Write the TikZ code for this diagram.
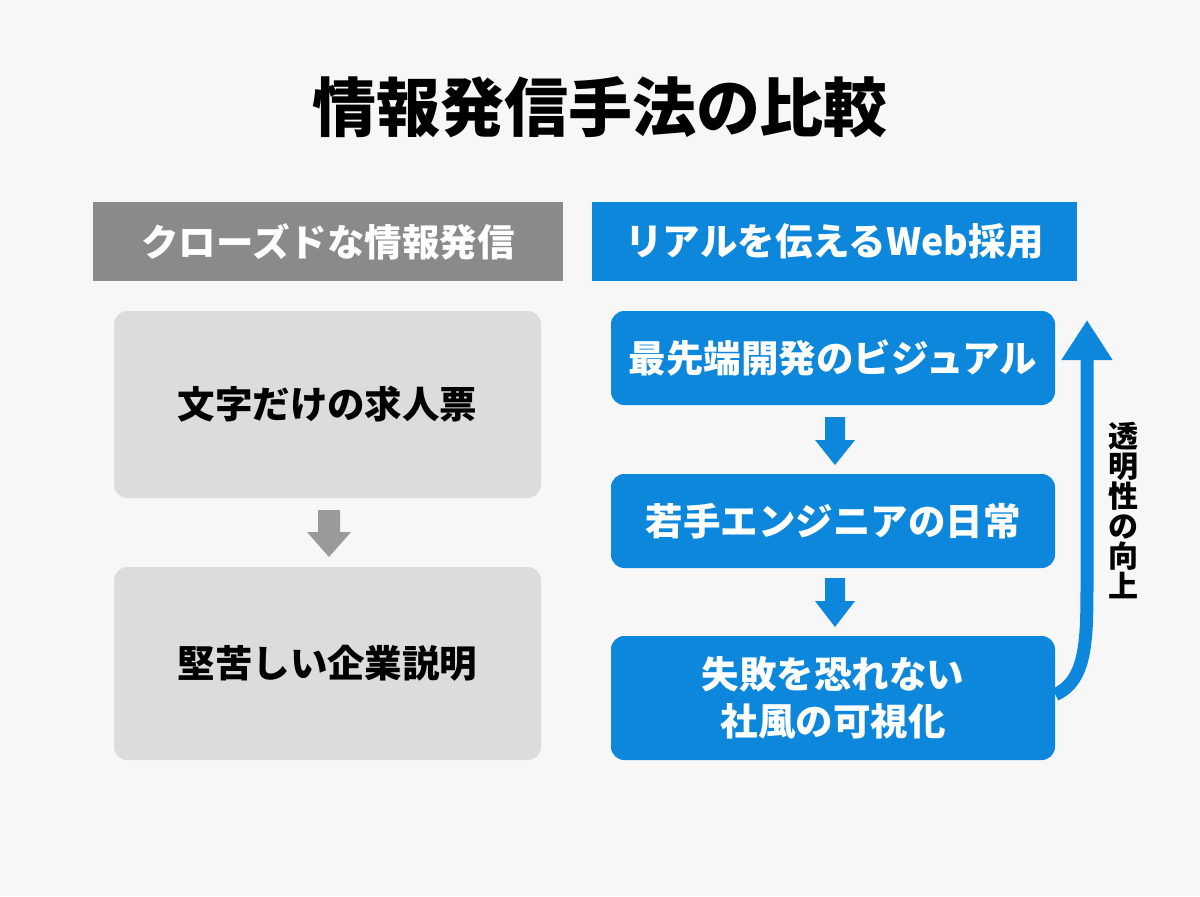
\documentclass[tikz,border=0pt]{standalone}
\usepackage{fontspec}
\setmainfont{Noto Sans CJK JP}
\usetikzlibrary{arrows.meta}
\definecolor{bg}{HTML}{F7F7F7}
\definecolor{hdrgray}{HTML}{8A8A8A}
\definecolor{boxgray}{HTML}{DCDCDC}
\definecolor{arrgray}{HTML}{9A9A9A}
\definecolor{blu}{HTML}{0D87DC}
\tikzset{
  hdr/.style={minimum height=79*0.6pt, inner sep=0pt, text=white, font=\fontsize{22.5}{27}\selectfont\bfseries},
  gbox/.style={fill=boxgray, rounded corners=8pt, minimum width=427*0.6pt, inner sep=0pt, font=\fontsize{22.5}{27}\selectfont\bfseries, text=black},
  bbox/.style={fill=blu, rounded corners=8pt, minimum width=444*0.6pt, inner sep=0pt, font=\fontsize{22.5}{28}\selectfont\bfseries, text=white, align=center},
}
\begin{document}
\begin{tikzpicture}[x=0.6pt,y=-0.6pt]
\fill[bg] (0,0) rectangle (1200,896);
\useasboundingbox (0,0) rectangle (1200,896);
\node[font=\fontsize{38.4}{44}\selectfont\bfseries] (title) at (600,107) {情報発信手法の比較};
% headers
\node[hdr, fill=hdrgray, minimum width=470*0.6pt] (lh) at (328,241.5) {クローズドな情報発信};
\node[hdr, fill=blu, minimum width=485*0.6pt] (rh) at (834.5,241.5) {リアルを伝えるWeb採用};
% left boxes
\node[gbox, minimum height=187*0.6pt] (l1) at (327.5,404.5) {文字だけの求人票};
\node[gbox, minimum height=193*0.6pt] (l2) at (327.5,663.5) {堅苦しい企業説明};
% right boxes
\node[bbox, minimum height=94*0.6pt] (r1) at (833,358) {最先端開発のビジュアル};
\node[bbox, minimum height=94*0.6pt] (r2) at (833,521) {若手エンジニアの日常};
\node[bbox, minimum height=124*0.6pt] (r3) at (833,698) {失敗を恐れない\\社風の可視化};
% block arrows
\fill[arrgray] (318,510) -- (340,510) -- (340,532) -- (351,532) -- (329,557) -- (307,532) -- (318,532) -- cycle;
\fill[blu] (825,417) -- (845,417) -- (845,440) -- (855,440) -- (835,465) -- (815,440) -- (825,440) -- cycle;
\fill[blu] (825,578) -- (845,578) -- (845,601) -- (855,601) -- (835,627) -- (815,601) -- (825,601) -- cycle;
% curved arrow
\coordinate (ctop) at (1087,320);
\draw[blu, line width=7.8pt, -{Triangle[width=29pt,length=24pt]}] ([yshift=2pt]r3.east) .. controls (1087,680) and (1087,640) .. (1087,580) -- (ctop);
\node[font=\fontsize{18}{18}\selectfont\bfseries, align=center, inner sep=0pt] (vt) at (1123,511) {透\\[0pt]明\\[0pt]性\\[0pt]の\\[0pt]向\\[0pt]上};
\end{tikzpicture}
\end{document}
